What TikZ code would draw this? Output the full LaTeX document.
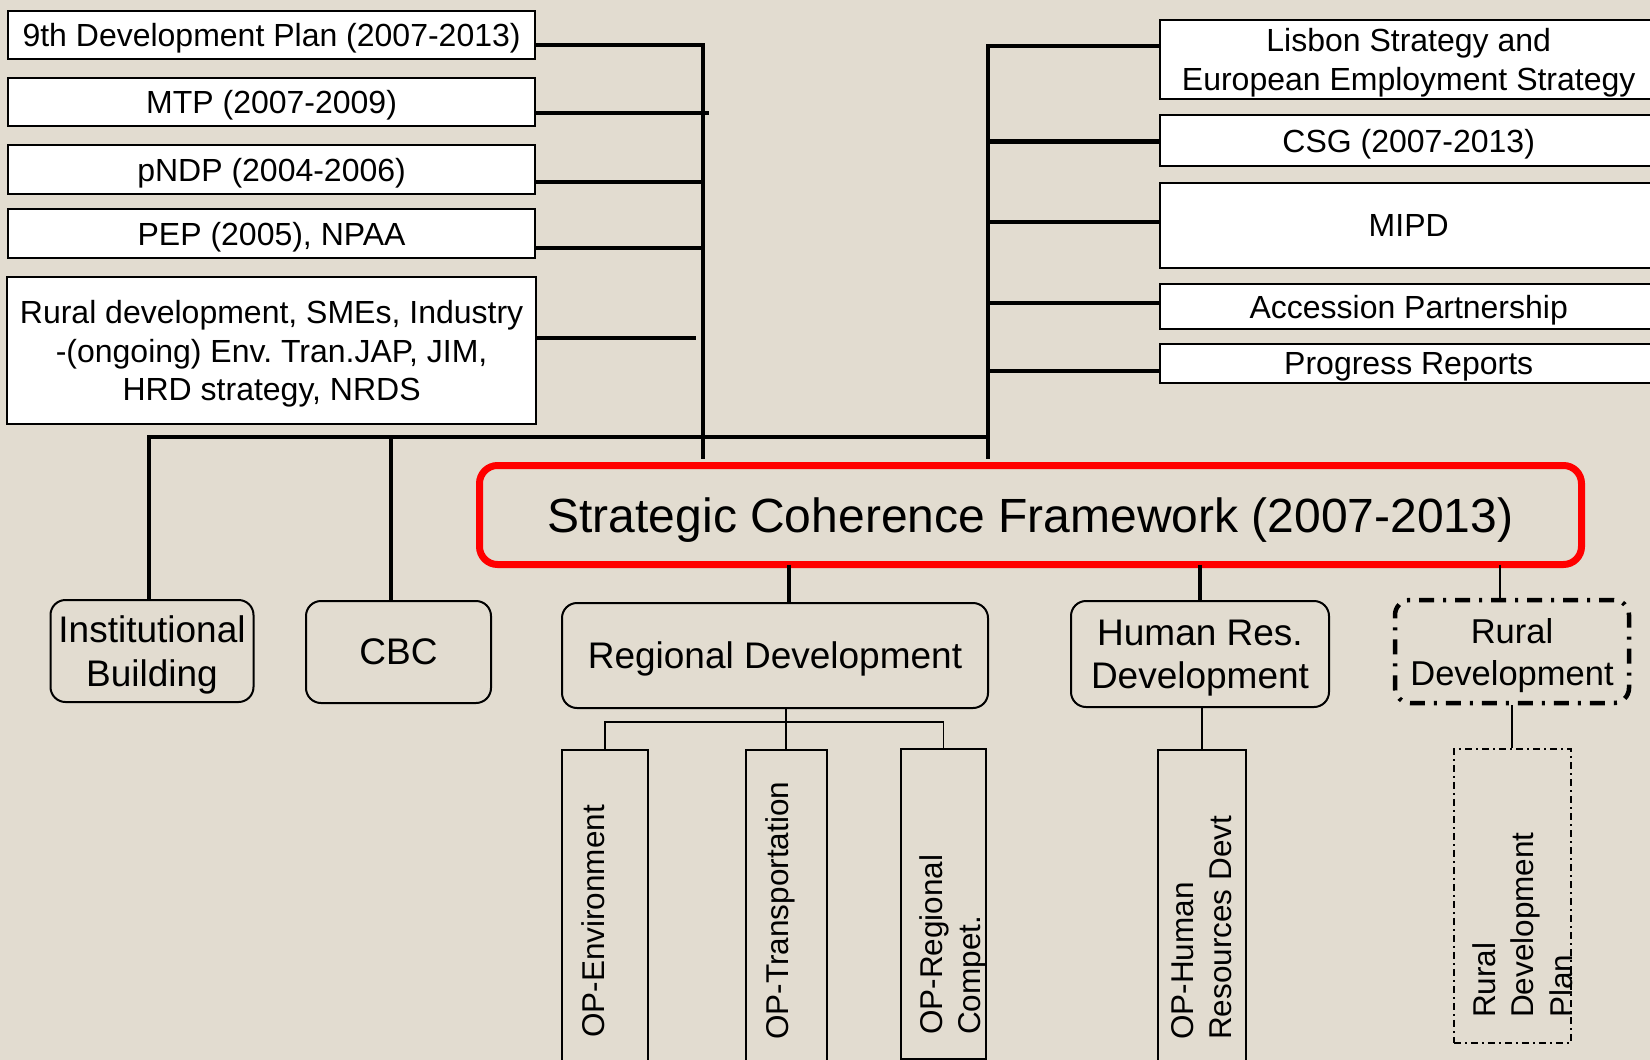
\documentclass[tikz,border=0pt]{standalone}
\usepackage{fontspec}
\setmainfont{Liberation Sans}
\usepackage{tikz}
\usetikzlibrary{calc,positioning}
\definecolor{paper}{RGB}{226,220,208}
\definecolor{scfred}{RGB}{255,0,0}

\begin{document}
\begin{tikzpicture}[
    x=1pt, y=-1pt,
    plan/.style={draw, fill=white, line width=2.2pt, align=center, inner sep=3pt, text depth=0pt, minimum width=527pt, font=\fontsize{32}{38.4}\selectfont},
    eubox/.style={plan, minimum width=498pt},
    scfbox/.style={draw=scfred, line width=7pt, rounded corners=18pt, text depth=0pt, minimum width=1102pt, minimum height=99pt, font=\fontsize{48}{57}\selectfont},
    priority/.style={draw, line width=2pt, rounded corners=15pt, align=center, text depth=0pt, font=\fontsize{37}{43.3}\selectfont},
    rurbox/.style={priority, line width=4.5pt, dash pattern=on 15pt off 9pt on 3pt off 9pt, font=\fontsize{34.5}{42}\selectfont},
    opbox/.style={draw, line width=1.8pt},
    rdpbox/.style={draw, line width=1.6pt, dash pattern=on 7pt off 4pt on 2pt off 4pt},
    optext/.style={rotate=90, anchor=north west, align=left, inner sep=0pt, font=\fontsize{31.5}{38.5}\selectfont},
    bus/.style={line width=4.5pt},
    link/.style={line width=1.9pt}
]
\fill[paper] (0,0) rectangle (1650,1060);
\useasboundingbox (0,0) rectangle (1650,1060);

\node[plan, minimum height=48.3pt, anchor=north west] (dp9) at (7,9.5) {9th Development Plan (2007-2013)};
\node[plan, minimum height=47.8pt, below=17pt of dp9] (mtp) {MTP (2007-2009)};
\node[plan, minimum height=48.8pt, below=17pt of mtp] (pndp) {pNDP (2004-2006)};
\node[plan, minimum height=48.8pt, below=13pt of pndp] (pep) {PEP (2005), NPAA};
\node[plan, minimum width=529pt, minimum height=146.8pt, below=17pt of pep] (sector) {Rural development, SMEs, Industry\\-(ongoing) Env.\ Tran.JAP, JIM,\\HRD strategy, NRDS};

\node[eubox, minimum height=78.8pt, anchor=north west] (lisbon) at (1158.6,19) {Lisbon Strategy and\\European Employment Strategy};
\node[eubox, minimum height=50.8pt, below=14pt of lisbon] (csg) {CSG (2007-2013)};
\node[eubox, minimum height=84.8pt, below=15pt of csg] (mipd) {MIPD};
\node[eubox, minimum height=44.8pt, below=14pt of mipd] (accession) {Accession Partnership};
\node[eubox, minimum height=38.8pt, below=13pt of accession] (progress) {Progress Reports};

\node[scfbox] (scf) at (1030.5,515) {Strategic Coherence Framework (2007-2013)};

\node[priority, minimum width=203pt, minimum height=102pt] (ib) at (152,651) {Institutional\\Building};
\node[priority, minimum width=185pt, minimum height=102pt] (cbc) at (398.5,652) {CBC};
\node[priority, minimum width=426pt, minimum height=105pt] (rd) at (775,655.5) {Regional Development};
\node[priority, minimum width=258pt, minimum height=106pt] (hrd) at (1200,654) {Human Res.\\Development};
\node[rurbox, minimum width=234pt, minimum height=103pt] (rurdev) at (1512,651.5) {Rural\\Development};

\node[opbox, minimum width=86pt, minimum height=340pt, anchor=north] (openv) at (605,749) {};
\node[opbox, minimum width=81pt, minimum height=340pt, anchor=north] (optrans) at (786.3,749) {};
\node[opbox, minimum width=85pt, minimum height=310pt, anchor=north] (opreg) at (943.5,748) {};
\node[opbox, minimum width=87.6pt, minimum height=340pt, anchor=north] (ophrd) at (1201.8,749) {};
\node[rdpbox, minimum width=117pt, minimum height=294pt, anchor=north] (rdp) at (1512.4,748) {};

\node[optext] (openvtext) at (581,1038) {OP-Environment};
\node[optext] (optranstext) at (765,1040) {OP-Transportation};
\node[optext] (opregtext) at (919,1035) {OP-Regional\\Compet.};
\node[optext] (ophrdtext) at (1171,1040) {OP-Human\\Resources Devt};
\node[optext] (rdptext) at (1472,1018) {Rural\\Development\\Plan};

\coordinate (lbus) at (703,45);
\coordinate (rbus) at (988,46);
\coordinate (jib) at (149,437);
\coordinate (jcbc) at (391,437);

\draw[bus, shorten >=3.5pt] (dp9.east |- lbus) -| (lbus |- scf.north);
\draw[bus] (mtp.east |- 0,113) -- ($(lbus |- 0,113)+(6,0)$);
\draw[bus] (pndp.east |- 0,182) -- (lbus |- 0,182);
\draw[bus] (pep.east |- 0,248) -- (lbus |- 0,248);
\draw[bus] (sector.east |- 0,338) -- ($(lbus |- 0,338)+(-7,0)$);

\draw[bus, shorten >=3.5pt] (lisbon.west |- rbus) -| (rbus |- scf.north);
\draw[bus] (csg.west |- 0,141.7) -- (rbus |- 0,141.7);
\draw[bus] (mipd.west |- 0,222) -- (rbus |- 0,222);
\draw[bus] (accession.west |- 0,303) -- (rbus |- 0,303);
\draw[bus] (progress.west |- 0,371) -- (rbus |- 0,371);

\draw[bus] (ib.north -| jib) |- (rbus |- jib);
\draw[bus] (cbc.north -| jcbc) -- (jcbc);

\draw[bus, shorten <=-3.5pt] (scf.south -| 789,0) -- (rd.north -| 789,0);
\draw[bus, shorten <=-3.5pt] (scf.south -| hrd.north) -- (hrd.north);
\draw[link, shorten <=-3.5pt] (scf.south -| 1500,0) -- (rurdev.north -| 1500,0);

\draw[link] (rd.south -| optrans.north) -- (optrans.north);
\draw[link] (openv.north) |- (opreg.north |- 0,722) -- (opreg.north);
\draw[link] (hrd.south -| ophrd.north) -- (ophrd.north);
\draw[link] (rurdev.south -| rdp.north) -- (rdp.north);
\end{tikzpicture}
\end{document}
